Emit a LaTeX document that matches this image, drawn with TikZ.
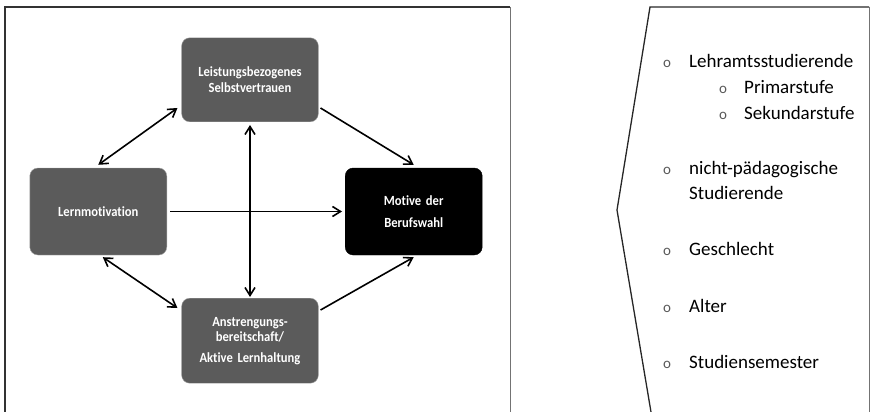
\documentclass[tikz,border=0pt]{standalone}
\usepackage{fontspec}
\setmainfont{Carlito}[Ligatures=NoCommon]
\newfontfamily\boxfont{Carlito}[FakeStretch=0.9, Ligatures=NoCommon]
\usetikzlibrary{arrows.meta, positioning}
\definecolor{boxgray}{HTML}{5B5B5B}
\tikzstyle{factor} = [rectangle, rounded corners=8pt, minimum width=136pt, text width=130pt, align=center, draw=gray!70, fill=boxgray, text=white, font=\boxfont\fontsize{14}{15.5}\selectfont\bfseries]
\tikzstyle{target} = [factor, fill=black, draw=black]
\tikzstyle{arrow} = [line width=1.6pt, -{Straight Barb[length=8pt,width=10pt]}]
\tikzstyle{dblarrow} = [line width=1.6pt, {Straight Barb[length=8pt,width=10pt]}-{Straight Barb[length=8pt,width=10pt]}]
\tikzstyle{item} = [anchor=base west, inner sep=0pt, font=\fontsize{19}{22}\selectfont, text=black]
\tikzstyle{bullet} = [anchor=base, inner sep=0pt, font=\fontsize{15}{17}\selectfont, text=black!65]

\begin{document}
\begin{tikzpicture}[x=1pt, y=-1pt]
		\useasboundingbox (0,0) rectangle (871,412);
		% frames
		\draw [line width=1.3pt, black!80] (5,412) -- (5,7) -- (510,7);
		\draw [line width=0.8pt, black!55] (510,7) -- (510,412);
		\draw [line width=1.3pt, black!85] (651,412) -- (617,210) -- (650,7) -- (869,7);
		\draw [line width=0.8pt, black!55] (869,7) -- (869,412);

		% model
		\coordinate (mid) at (250,211.5);
		\node (leist) [factor, minimum height=84pt, above=89.5pt of mid] {Leistungsbezogenes\\Selbstvertrauen};
		\node (anstr) [factor, minimum height=85pt, below=86.5pt of mid] {Anstrengungs-\\bereitschaft/\\[5pt]Aktive Lernhaltung};
		\node (lern) [factor, minimum width=137pt, minimum height=87pt, left=83pt of mid] {Lernmotivation};
		\node (motiv) [target, minimum width=137pt, minimum height=87pt, right=95pt of mid] {Motive der\\[6pt]Berufswahl};

		\draw [dblarrow] ([yshift=3pt]lern.north) -- ([xshift=-4pt,yshift=14pt]leist.south west);
		\draw [arrow] ([xshift=2pt,yshift=14pt]leist.south east) -- ([yshift=3pt]motiv.north);
		\draw [arrow] ([xshift=3pt]lern.east) -- ([xshift=-3pt]motiv.west);
		\draw [dblarrow] ([yshift=-3pt]leist.south) -- ([yshift=1pt]anstr.north);
		\draw [dblarrow] ([xshift=4.5pt,yshift=-2pt]lern.south) -- ([xshift=-4pt,yshift=-10pt]anstr.north west);
		\draw [arrow] ([xshift=2pt,yshift=-12pt]anstr.north east) -- ([yshift=-2pt]motiv.south);

		% groups
		\node (b1) [bullet] at (667,67) {o};
		\node (lehramt) [item] at (689,67) {Lehramtsstudierende};
		\node (b2) [bullet] at (723,93) {o};
		\node (primar) [item] at (744,93) {Primarstufe};
		\node (b3) [bullet] at (723,120) {o};
		\node (sek) [item] at (744,120) {Sekundarstufe};
		\node (b4) [bullet] at (667,175) {o};
		\node (nichtpaed) [item] at (689,175) {nicht-pädagogische};
		\node (stud) [item] at (689,199) {Studierende};
		\node (b5) [bullet] at (667,255) {o};
		\node (geschl) [item] at (689,255) {Geschlecht};
		\node (b6) [bullet] at (667,312) {o};
		\node (alter) [item] at (689,312) {Alter};
		\node (b7) [bullet] at (667,368) {o};
		\node (sem) [item] at (689,368) {Studiensemester};
\end{tikzpicture}
\end{document}
